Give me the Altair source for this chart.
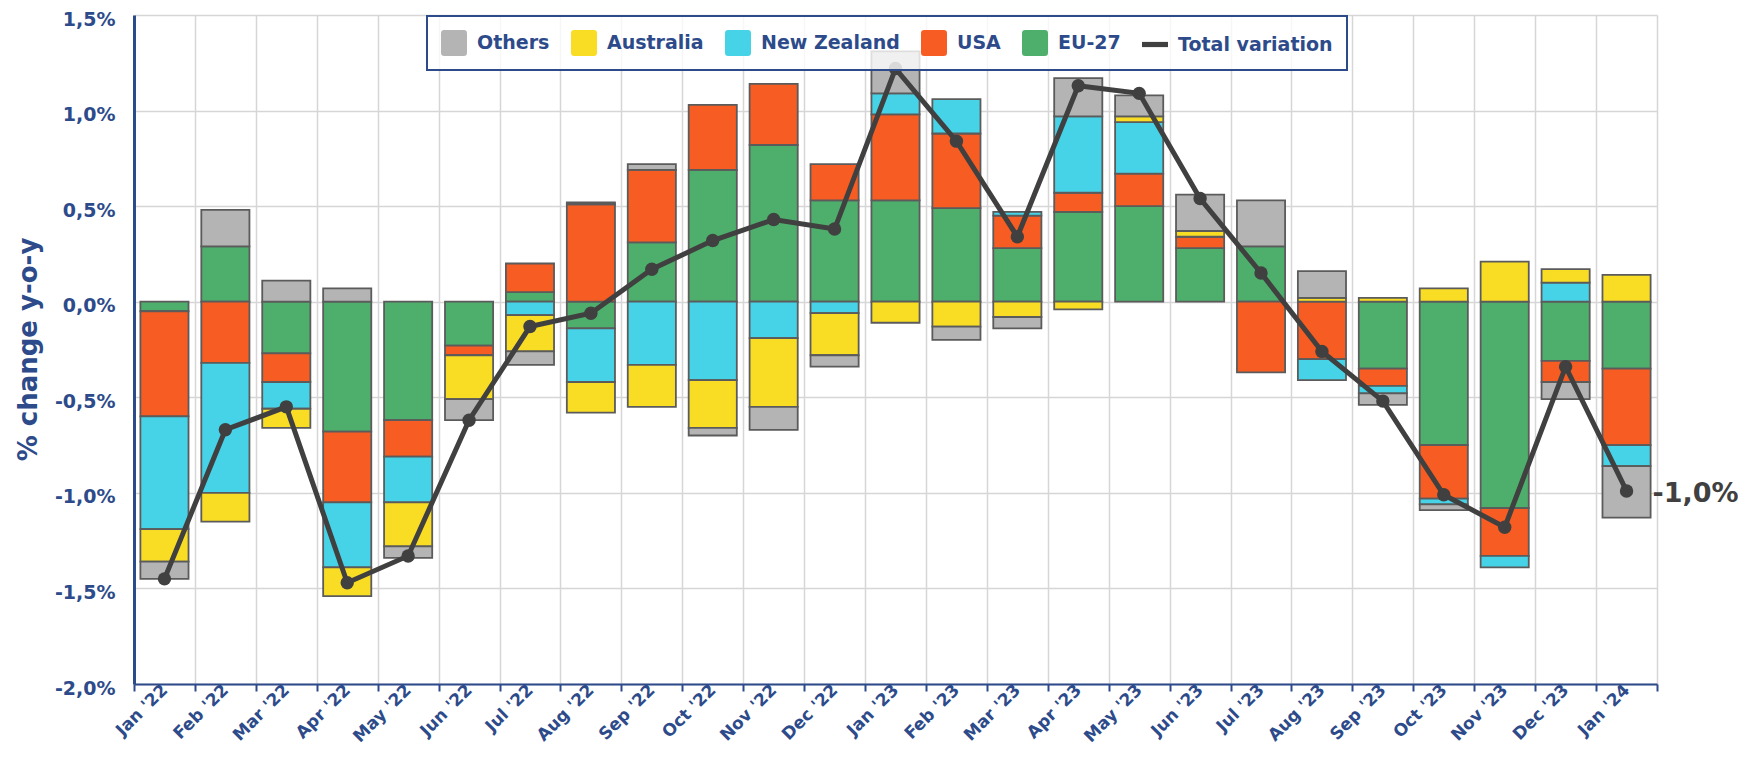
import altair as alt
import pandas as pd

months = ["Jan '22", "Feb '22", "Mar '22", "Apr '22", "May '22", "Jun '22", "Jul '22",
          "Aug '22", "Sep '22", "Oct '22", "Nov '22", "Dec '22", "Jan '23", "Feb '23",
          "Mar '23", "Apr '23", "May '23", "Jun '23", "Jul '23", "Aug '23", "Sep '23",
          "Oct '23", "Nov '23", "Dec '23", "Jan '24"]

eu27 = [-0.05, 0.29, -0.27, -0.68, -0.62, -0.23, 0.05, -0.14, 0.31, 0.69, 0.82, 0.53, 0.53,
        0.49, 0.28, 0.47, 0.50, 0.28, 0.29, 0.0, -0.35, -0.75, -1.08, -0.31, -0.35]
usa = [-0.55, -0.32, -0.15, -0.37, -0.19, -0.05, 0.15, 0.51, 0.38, 0.34, 0.32, 0.19, 0.45,
       0.39, 0.17, 0.10, 0.17, 0.06, -0.37, -0.30, -0.09, -0.28, -0.25, -0.11, -0.40]
new_zealand = [-0.59, -0.68, -0.14, -0.34, -0.24, 0.0, -0.07, -0.28, -0.33, -0.41, -0.19, -0.06,
               0.11, 0.18, 0.02, 0.40, 0.27, 0.0, 0.0, -0.11, -0.04, -0.03, -0.06, 0.10, -0.11]
australia = [-0.17, -0.15, -0.10, -0.15, -0.23, -0.23, -0.19, -0.16, -0.22, -0.25, -0.36, -0.22,
             -0.11, -0.13, -0.08, -0.04, 0.03, 0.03, 0.0, 0.02, 0.02, 0.07, 0.21, 0.07, 0.14]
others = [-0.09, 0.19, 0.11, 0.07, -0.06, -0.11, -0.07, 0.01, 0.03, -0.04, -0.12, -0.06, 0.22,
          -0.07, -0.06, 0.20, 0.11, 0.19, 0.24, 0.14, -0.06, -0.03, 0.0, -0.09, -0.27]
total = [-1.45, -0.67, -0.55, -1.47, -1.33, -0.62, -0.13, -0.06, 0.17, 0.32, 0.43, 0.38, 1.22,
         0.84, 0.34, 1.13, 1.09, 0.54, 0.15, -0.26, -0.52, -1.01, -1.18, -0.34, -0.99]

series_names = ["Others", "Australia", "New Zealand", "USA", "EU-27", "Total variation"]
series_colors = ["#B4B4B4", "#F9DD25", "#46D3E7", "#F75C22", "#4EAF6C", "#404040"]
stack_rank = {"EU-27": 0, "USA": 1, "New Zealand": 2, "Australia": 3, "Others": 4}

ROUNDED = ("M-0.75,-1L0.75,-1Q1,-1,1,-0.75L1,0.75Q1,1,0.75,1L-0.75,1Q-1,1,-1,0.75"
           "L-1,-0.75Q-1,-1,-0.75,-1Z")
DASH = "M-1,-0.2L1,-0.2L1,0.2L-1,0.2Z"
series_shapes = [ROUNDED] * 5 + [DASH]

rows = []
for name, vals in [("EU-27", eu27), ("USA", usa), ("New Zealand", new_zealand),
                   ("Australia", australia), ("Others", others)]:
    for m, v in zip(months, vals):
        rows.append({"month": m, "series": name, "value": v, "rank": stack_rank[name]})
bars_df = pd.DataFrame(rows)
total_df = pd.DataFrame({"month": months, "total": total})
legend_df = pd.DataFrame({"series": series_names})

BLUE = "#2D4B8A"
FONT = "DejaVu Sans"
GRID = "#D6D6D6"

x_axis = alt.Axis(
    tickBand="extent", labelAngle=-45, labelAlign="right",
    labelBaseline="middle", labelFont=FONT, labelFontSize=17, labelFontWeight="bold",
    labelColor=BLUE, tickColor=BLUE, tickSize=7, tickWidth=2, domainColor=BLUE,
    domainWidth=2, grid=True, gridColor=GRID, gridWidth=1.5, labelPadding=-4,
    labelOverlap=False, title=None,
)
x_enc = alt.X("month:N", sort=months, scale=alt.Scale(paddingInner=0, paddingOuter=0),
              axis=x_axis, title=None)

y_scale = alt.Scale(domain=[-2, 1.5], nice=False, zero=False)
y_axis = alt.Axis(
    values=[-2, -1.5, -1, -0.5, 0, 0.5, 1, 1.5],
    labelExpr="replace(replace(format(datum.value, '.1f'), '.', ','), '\u2212', '-') + '%'",
    ticks=False, labelPadding=19, labelBaseline="middle", labelOffset=4,
    labelFont=FONT, labelFontSize=19, labelFontWeight="bold", labelColor=BLUE,
    domainColor=BLUE, domainWidth=3, grid=True, gridColor=GRID, gridWidth=1.5,
    titleFont=FONT, titleFontSize=26, titleFontWeight="bold", titleColor=BLUE,
    titleX=-106, titleY=334, titleAngle=270, titleAlign="center", titleBaseline="middle",
)
Y_TITLE = "% change y-o-y"

bars = alt.Chart(bars_df).transform_filter("datum.value != 0").mark_bar(
    width=alt.RelativeBandSize(0.79), stroke="#5B5B5B", strokeWidth=1.8
).encode(
    x=x_enc,
    y=alt.Y("value:Q", stack="zero", scale=y_scale, axis=y_axis, title=Y_TITLE),
    color=alt.Color("series:N", scale=alt.Scale(domain=series_names, range=series_colors),
                    legend=None),
    order=alt.Order("rank:Q", sort="ascending"),
)

line = alt.Chart(total_df).mark_line(color="#404040", strokeWidth=5).encode(
    x=x_enc, y=alt.Y("total:Q", scale=y_scale, title=Y_TITLE)
)
points = alt.Chart(total_df).mark_circle(size=180, color="#404040", opacity=1).encode(
    x=x_enc, y=alt.Y("total:Q", scale=y_scale, title=Y_TITLE)
)
label = alt.Chart(total_df).transform_filter(
    f"datum.month == \"{months[-1]}\""
).transform_calculate(
    lbl="replace(replace(format(datum.total, '.1f'), '.', ','), '\u2212', '-') + '%'"
).mark_text(
    align="left", baseline="middle", dx=26, dy=3, fontSize=27, fontWeight="bold",
    font=FONT, color="#404040"
).encode(x=x_enc, y=alt.Y("total:Q", scale=y_scale, title=Y_TITLE), text="lbl:N")

legend_props = dict(
    orient="none", legendX=293, legendY=1, direction="horizontal", columns=6, title=None,
    symbolSize=676, symbolStrokeWidth=0, symbolOpacity=1, labelFont=FONT, labelFontSize=19,
    labelFontWeight="bold", labelColor=BLUE, labelOffset=10, columnPadding=21, padding=14,
    strokeColor=BLUE, fillColor="rgba(255,255,255,0.8)", labelLimit=400,
)
legend_layer = alt.Chart(legend_df).mark_point(filled=True, opacity=0).encode(
    color=alt.Color("series:N", scale=alt.Scale(domain=series_names, range=series_colors),
                    legend=alt.Legend(**legend_props)),
    shape=alt.Shape("series:N", scale=alt.Scale(domain=series_names, range=series_shapes),
                    legend=alt.Legend(**legend_props)),
)

chart = alt.layer(bars, line, points, label, legend_layer).resolve_scale(
    color="independent", shape="independent"
).properties(
    width=1523, height=669,
    autosize=alt.AutoSizeParams(type="none"),
    padding={"left": 126, "top": 7, "right": 81, "bottom": 65},
).configure_view(stroke=None).configure_legend(strokeWidth=2)

chart.save("out.html", embed_options={"renderer": "svg", "actions": False})
